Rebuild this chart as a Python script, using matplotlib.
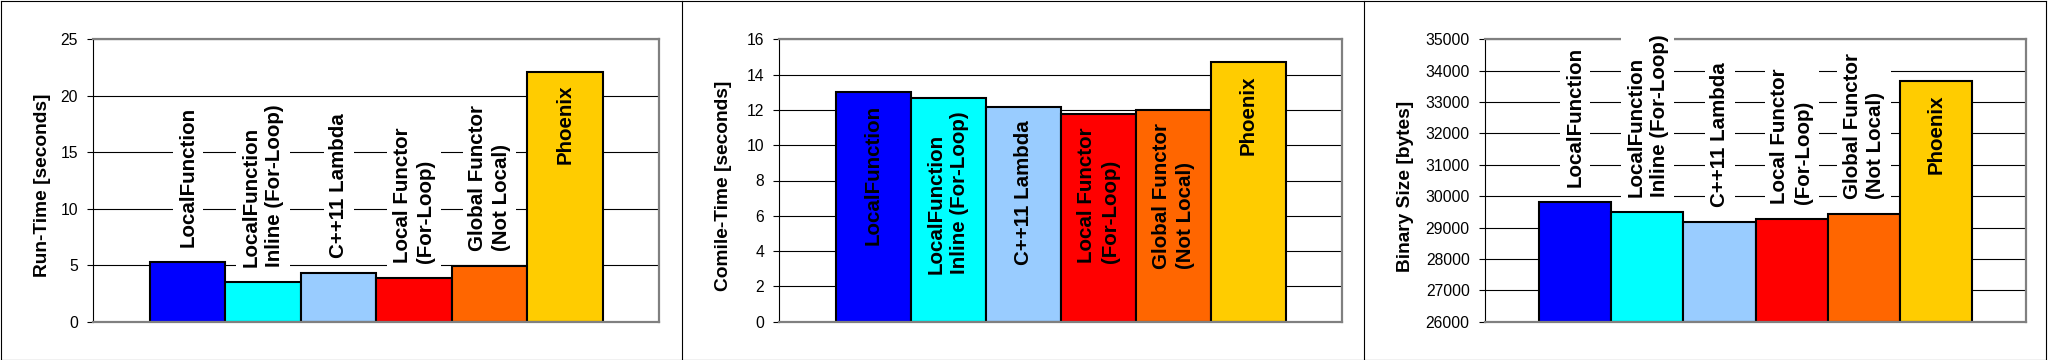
import matplotlib
matplotlib.use("Agg")
import matplotlib.pyplot as plt
from matplotlib.lines import Line2D
from matplotlib.ticker import MultipleLocator, FuncFormatter

plt.rcParams['font.family'] = ['Liberation Sans', 'DejaVu Sans']

# ---- data ----
labels = ["LocalFunction", "LocalFunction\nInline (For-Loop)", "C++11 Lambda",
          "Local Functor\n(For-Loop)", "Global Functor\n(Not Local)", "Phoenix"]
colors = ["#0000FF", "#00FFFF", "#99CCFF", "#FF0000", "#FF6600", "#FFCC00"]

run_time = [5.28, 3.51, 4.31, 3.90, 4.93, 22.14]
compile_time = [13.03, 12.67, 12.16, 11.77, 11.99, 14.71]
binary_size = [29815, 29496, 29177, 29273, 29432, 33672]

ylabels = ["Run-Time [seconds]", "Comile-Time [seconds]", "Binary Size [bytes]"]
ylims = [(0, 25), (0, 16), (26000, 35000)]
ysteps = [5, 2, 1000]

W, H = 2048, 360
fig = plt.figure(figsize=(W / 100, H / 100), dpi=100)

bottom = (H - 321.7) / H
height = (321.7 - 39.3) / H
axes_px = [(93.3, 566.0), (779.3, 563.0), (1485.0, 541.3)]
ylabel_pos = [(-0.0753, 0.484), (-0.0835, 0.482), (-0.1312, 0.479)]

series = [run_time, compile_time, binary_size]
grey = "#808080"

for k in range(3):
    lx, lw = axes_px[k]
    ax = fig.add_axes([lx / W, bottom, lw / W, height])
    vals = series[k]
    y0, y1 = ylims[k]
    xs = list(range(len(vals)))
    ax.bar(xs, [v - y0 for v in vals], bottom=y0, width=1.0, color=colors,
           edgecolor="black", linewidth=1.5, zorder=2)
    ax.set_xlim(-1.25, len(vals) + 0.25)
    ax.set_ylim(y0, y1)
    ax.yaxis.set_major_locator(MultipleLocator(ysteps[k]))
    ax.yaxis.set_major_formatter(FuncFormatter(lambda v, p: f"{v:.0f}"))
    ax.set_xticks([])
    ax.set_axisbelow(True)
    ax.yaxis.grid(True, color="black", linewidth=0.8)
    ax.tick_params(axis="y", direction="out", length=4, width=0.8, pad=7,
                   labelsize=11.3, colors="black")
    for s in ["top", "right", "bottom"]:
        ax.spines[s].set_color(grey)
        ax.spines[s].set_linewidth(1.6)
    ax.spines["left"].set_color("black")
    ax.spines["left"].set_linewidth(0.8)
    ax.set_ylabel(ylabels[k], fontsize=13.8, fontweight="bold")
    ax.yaxis.set_label_coords(*ylabel_pos[k])

    for i, v in enumerate(vals):
        frac = (v - y0) / (y1 - y0)
        if frac > 0.5:
            ax.annotate(labels[i], xy=(i, v), xytext=(0, -9.5),
                        textcoords="offset points", rotation=90,
                        ha="center", va="top", multialignment="left",
                        fontsize=14.8, fontweight="bold", linespacing=1.3,
                        zorder=4)
        else:
            ax.annotate(labels[i], xy=(i, v), xytext=(0, 10.5),
                        textcoords="offset points", rotation=90,
                        ha="center", va="bottom", multialignment="left",
                        fontsize=14.8, fontweight="bold", linespacing=1.3,
                        bbox=dict(boxstyle="square,pad=0.27", fc="white",
                                  ec="none"),
                        zorder=4)

# ---- panel frames ----
def fx(px):
    return px / W

def fy(py):
    return 1 - py / H

for xpx in [0.7, 682.0, 1363.5, 2046.3]:
    fig.add_artist(Line2D([fx(xpx), fx(xpx)], [fy(0.5), fy(359.5)],
                          color="black", linewidth=0.8))
for ypx in [0.5, 359.5]:
    fig.add_artist(Line2D([fx(0.7), fx(2046.3)], [fy(ypx), fy(ypx)],
                          color="black", linewidth=0.8))

fig.savefig("out.png", dpi=100, facecolor="white")
